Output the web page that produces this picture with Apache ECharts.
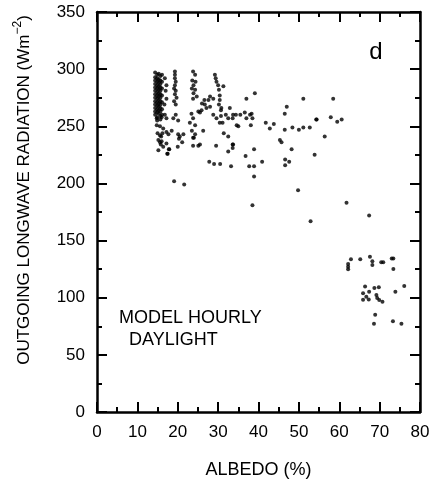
<!DOCTYPE html>
<html>
<head>
<meta charset="utf-8">
<script src="https://cdn.jsdelivr.net/npm/echarts@6/dist/echarts.min.js"></script>
<style>
  html, body { margin: 0; padding: 0; background: #fff; }
  #chart { width: 436px; height: 485px; }
</style>
</head>
<body>
<div id="chart"></div>
<script>
// ---- Data (albedo %, OLR W m^-2) ----
// dense low-albedo block
const blockAlbedo = [
  14.4,14.4,14.4,14.4,14.4,14.4,14.4,14.4,14.4,14.4,14.4,14.4,14.4,
  14.9,14.9,14.9,14.9,14.9,14.9,14.9,14.9,14.9,14.9,14.9,14.9,14.9,14.9,
  15.3,15.3,15.3,15.3,15.3,15.3,15.3,15.3,15.3,15.3,15.3,15.3,
  15.7,15.7,15.7,15.7,15.7,15.7,15.7,15.7,15.7,15.7,15.7,15.7,15.7,
  16.1,16.1,16.1,16.1,16.1,16.1,16.1
];
const blockOLR = [
  297,293,290,287,284,281,278,275,272,269,266,263,260,
  295,292,289,286,283,280,277,274,271,268,265,262,258,255,
  296,291,288,285,282,279,276,273,270,267,264,261,
  294,290,287,284,281,278,275,272,269,266,263,259,256,
  295,289,283,277,271,265,260
];
// remaining points, low and mid albedo
const scatterAlbedo = [
  14.8,16.0,14.8,15.6,16.4,15.0,15.6,15.2,16.0,15.6,15.8,15.2,16.4,17.2,17.8,17.5,15.9,16.2,17.2,17.7,16.8,17.2,
  16.8,17.2,17.0,17.2,16.7,
  19.3,19.3,19.3,19.5,19.3,19.1,19.5,19.3,19.7,19.1,19.5,18.9,19.5,20.1,18.5,20.1,20.5,20.3,21.1,20.0,17.9,17.4,21.4,19.1,21.6,
  23.8,24.3,23.6,24.4,23.9,23.5,24.3,23.9,24.7,23.8,23.4,23.8,23.0,24.3,25.1,25.9,26.7,27.6,27.1,28.0,24.3,23.8,26.3,23.5,24.0,23.8,25.1,25.5,26.0,25.5,26.6,
  29.2,29.4,29.6,30.0,30.2,30.4,30.4,30.2,30.7,28.8,28.0,28.8,29.6,30.4,29.5,27.8,29.0,30.5,
  31.3,32.9,30.8,31.9,30.7,32.5,33.7,34.4,33.6,35.5,36.6,37.9,38.3,37.0,38.5,34.6,35.0,38.1,31.1,31.4,32.5,33.7,33.6,33.6,32.5,33.2,36.8,38.9,37.7,38.9,40.9,38.9,38.5,39.1,37.0,
  41.8,42.8,43.8,45.3,45.7,46.5,46.5,47.0,51.1,58.5,48.4,50.0,51.1,52.7,54.4,54.3,57.9,59.5,60.6,56.4,48.2,53.9,46.6,47.6,46.6,49.8,61.8,67.4,52.9
];
const scatterOLR = [
  257,258,251,250,248,244,242,238,237,236,234,229,232,235,230,226,241,244,245,243,260,257,
  292,286,281,274,269,
  298,295,292,289,286,283,281,278,275,272,269,257,260,255,246,243,241,239,236,232,230,226,243,202,199,
  298,295,290,289,286,283,282,279,276,274,261,257,253,251,263,264,269,273,266,267,243,240,246,246,240,233,233,234,270,262,273,
  295,292,289,286,282,277,273,269,264,274,276,260,257,253,233,219,217,217,
  285,266,266,260,259,257,260,260,257,260,262,260,261,257,257,251,250,251,253,244,241,234,234,231,228,215,224,230,215,215,219,206,181,279,274,
  253,248,252,238,236,247,261,267,274,274,249,247,249,249,256,256,258,254,256,241,230,225,221,219,216,194,183,172,167
];
// high-albedo (bright cloud) group
const highAlbedo = [
  62.9,62.2,62.2,62.2,65.2,67.6,68.2,68.2,70.4,70.9,73.0,73.4,73.4,
  66.4,68.7,69.8,76.1,73.9,
  65.9,66.7,65.9,67.4,67.3,69.2,69.9,70.7,69.4,
  68.9,68.6,73.3,75.4
];
const highOLR = [
  133.6,129.5,127.0,124.9,133.7,135.8,131.8,128.6,131.0,131.0,134.4,134.4,125.1,
  109.9,108.6,109.2,110.2,105.3,
  103.8,100.8,98.3,105.3,98.4,102.4,98.0,96.4,99.8,
  85.0,77.3,79.5,77.3
];
const xTicks = [0, 80, 10];   // min, max, interval
const yTicks = [0, 350, 50];

const albedo = blockAlbedo.concat(scatterAlbedo, highAlbedo);
const olr = blockOLR.concat(scatterOLR, highOLR);
const points = albedo.map((a, i) => [a, olr[i]]);

const FONT = '"Liberation Sans", Arial, Helvetica, sans-serif';

function xAx(pos, main) {
  return {
    type: 'value', position: pos, min: xTicks[0], max: xTicks[1], interval: xTicks[2],
    axisLine: { show: true, onZero: false, lineStyle: { color: '#000', width: 2.5 } },
    axisTick: { show: true, inside: true, length: 10, lineStyle: { color: '#000', width: 2 } },
    minorTick: { show: true, splitNumber: 2, length: 5, lineStyle: { color: '#000', width: 2 } },
    axisLabel: { show: main, color: '#000', fontSize: 17, fontFamily: FONT, margin: 12 },
    splitLine: { show: false }, minorSplitLine: { show: false },
    name: main ? 'ALBEDO (%)' : '', nameLocation: 'middle', nameGap: 49,
    nameTextStyle: { color: '#000', fontSize: 18, fontFamily: FONT }
  };
}
function yAx(pos, main) {
  return {
    type: 'value', position: pos, min: yTicks[0], max: yTicks[1], interval: yTicks[2],
    axisLine: { show: true, onZero: false, lineStyle: { color: '#000', width: 2.5 } },
    axisTick: { show: true, inside: true, length: 10, lineStyle: { color: '#000', width: 2 } },
    minorTick: { show: true, splitNumber: 2, length: 5, lineStyle: { color: '#000', width: 2 } },
    axisLabel: { show: main, color: '#000', fontSize: 17, fontFamily: FONT, margin: 12 },
    splitLine: { show: false }, minorSplitLine: { show: false }
  };
}

const chart = echarts.init(document.getElementById('chart'), null, { renderer: 'canvas' });
chart.setOption({
  animation: false,
  backgroundColor: '#fff',
  grid: { left: 97, right: 16, top: 12, bottom: 73 },
  xAxis: [xAx('bottom', true), xAx('top', false)],
  yAxis: [yAx('left', true), yAx('right', false)],
  series: [{
    type: 'scatter', xAxisIndex: 0, yAxisIndex: 0,
    data: points, symbol: 'circle', symbolSize: 4,
    itemStyle: { color: '#000' }
  }],
  graphic: [
    { type: 'text', x: 24, y: 190, rotation: Math.PI / 2,
      style: { text: 'OUTGOING LONGWAVE RADIATION (Wm{sup|−2})', fill: '#000',
        font: '17px ' + FONT, align: 'center', verticalAlign: 'middle',
        rich: { sup: { fontSize: 12, fontFamily: FONT, fill: '#000', verticalAlign: 'top', lineHeight: 24 } } } },
    { type: 'text', x: 376, y: 52,
      style: { text: 'd', fill: '#000', font: '24px ' + FONT, align: 'center', verticalAlign: 'middle' } },
    { type: 'text', x: 119, y: 318,
      style: { text: 'MODEL HOURLY', fill: '#000', font: '18px ' + FONT, align: 'left', verticalAlign: 'middle' } },
    { type: 'text', x: 129, y: 340,
      style: { text: 'DAYLIGHT', fill: '#000', font: '18px ' + FONT, align: 'left', verticalAlign: 'middle' } }
  ]
});
</script>
</body>
</html>
